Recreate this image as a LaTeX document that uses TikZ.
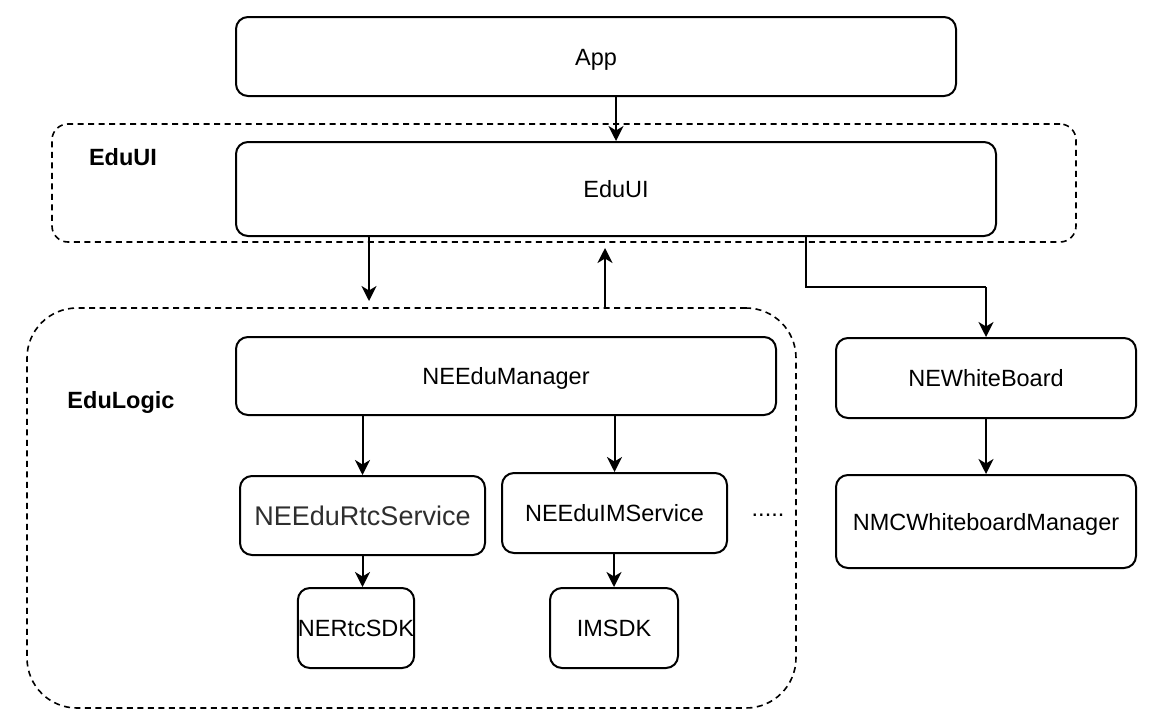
\documentclass[tikz,border=0pt]{standalone}
\usepackage{fontspec}
\setmainfont{Liberation Sans}
\usetikzlibrary{arrows.meta}
\begin{document}
\begin{tikzpicture}[x=1pt,y=-1pt,
  box/.style={draw, line width=2pt, rounded corners=12pt, inner sep=0pt,
    text height=17pt, text depth=0pt,
    font=\fontsize{23.5}{28}\selectfont},
  grp/.style={draw, line width=1.6pt, dash pattern=on 6pt off 4.5pt, inner sep=0pt},
  lbl/.style={font=\fontsize{23.5}{28}\selectfont\bfseries, inner sep=0pt,
    text height=17pt, text depth=0pt},
  arr/.style={line width=2pt, -{Stealth[length=15pt,width=15pt,inset=4.5pt]}},
]
\useasboundingbox (0,0) rectangle (1154,726);
% groups
\node[grp, rounded corners=16pt, minimum width=1024pt, minimum height=118pt] (uigrp) at (564,183) {};
\node[grp, rounded corners=50pt, minimum width=769pt, minimum height=400pt] (logic) at (411.5,508) {};
\node[lbl] (uilbl) at (123,157) {EduUI};
\node[lbl] (logiclbl) at (121,400) {EduLogic};
% boxes
\node[box, minimum width=720pt, minimum height=79pt] (app) at (596,56.5) {App};
\node[box, minimum width=760pt, minimum height=94pt] (eduui) at (616,189) {EduUI};
\node[box, minimum width=540pt, minimum height=78pt] (mgr) at (506,376) {NEEduManager};
\node[box, minimum width=245pt, minimum height=79pt, text=black!82, text height=20pt,
  font=\fontsize{27}{32}\selectfont] (rtc) at (362.5,515.5) {NEEduRtcService};
\node[box, minimum width=225pt, minimum height=80pt] (im) at (614.5,513) {NEEduIMService};
\node[box, minimum width=114pt, minimum height=80pt] (rtcsdk) at (356,628) {NERtcSDK};
\node[box, minimum width=128pt, minimum height=80pt] (imsdk) at (614,628) {IMSDK};
\node[box, minimum width=300pt, minimum height=80pt] (wb) at (986,378) {NEWhiteBoard};
\node[box, minimum width=300pt, minimum height=93pt] (nmc) at (986,521.5) {NMCWhiteboardManager};
\node[inner sep=0pt, font=\fontsize{23.5}{28}\selectfont] (dots) at (768,515) {.....};
% connectors
\draw[arr] (app.south -| eduui.north) -- (eduui.north);
\coordinate (downend) at (369,301);
\draw[arr] (eduui.south -| downend) -- (downend);
\coordinate (upend) at (605,248);
\draw[arr] (logic.north -| upend) -- (upend);
\coordinate (bend) at (806,287);
\draw[line width=2pt] (eduui.south -| bend) -- (bend) -- (bend -| wb.north);
\draw[arr] (bend -| wb.north) -- (wb.north);
\draw[arr] (wb.south) -- (nmc.north);
\draw[arr] (mgr.south -| rtc.north) -- (rtc.north);
\draw[arr] (mgr.south -| im.north) -- (im.north);
\draw[arr] (rtc.south) -- (rtc.south |- rtcsdk.north);
\draw[arr] (im.south -| imsdk.north) -- (imsdk.north);
\end{tikzpicture}
\end{document}
